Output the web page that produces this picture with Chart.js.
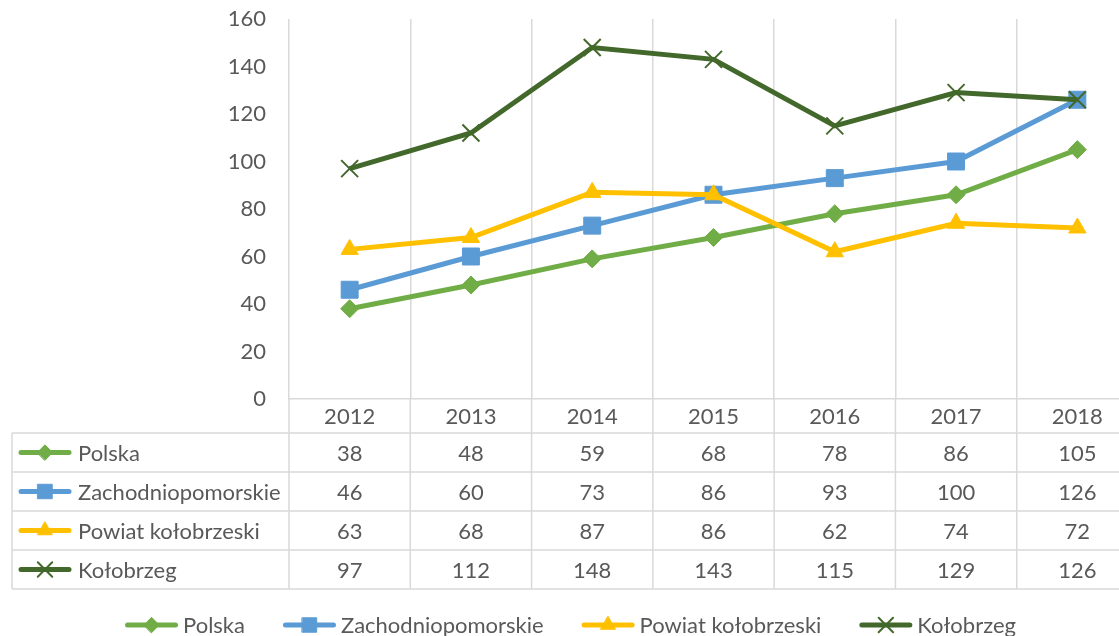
<!DOCTYPE html>
<html>
<head>
<meta charset="utf-8">
<script src="https://cdn.jsdelivr.net/npm/chart.js@4.4.0/dist/chart.umd.min.js"></script>
<style>
  body { margin: 0; background: #fff; overflow: hidden; }
  #wrap { width: 1152px; height: 636px; }
</style>
</head>
<body>
<div id="wrap"><canvas id="lineChart" width="1152" height="636"></canvas></div>
<script>
const years = ['2012', '2013', '2014', '2015', '2016', '2017', '2018'];
const seriesNames = ['Polska', 'Zachodniopomorskie', 'Powiat kołobrzeski', 'Kołobrzeg'];
const polska = [38, 48, 59, 68, 78, 86, 105];
const zachodniopomorskie = [46, 60, 73, 86, 93, 100, 126];
const powiat = [63, 68, 87, 86, 62, 74, 72];
const kolobrzeg = [97, 112, 148, 143, 115, 129, 126];
const yTicks = [0, 20, 40, 60, 80, 100, 120, 140, 160];

const TEXT = '#595959';
const GRID = '#D9D9D9';
const FONT = 'Lato';
const FSIZE = 22;

Chart.defaults.font.family = FONT;
Chart.defaults.font.size = FSIZE;
Chart.defaults.color = TEXT;

function series(label, data, color, style, radius, order, bw) {
    return {
        label: label,
        data: data,
        borderColor: color,
        backgroundColor: color,
        pointBackgroundColor: color,
        pointBorderColor: color,
        pointStyle: style,
        pointRadius: radius,
        pointHoverRadius: radius,
        pointBorderWidth: bw,
        borderWidth: 5,
        tension: 0,
        fill: false,
        order: order
    };
}

// line + marker sample, used by the table and the legend
function drawKey(ctx, ds, cx, cy) {
    ctx.save();
    ctx.strokeStyle = ds.borderColor;
    ctx.lineWidth = 5;
    ctx.lineCap = 'round';
    ctx.beginPath();
    ctx.moveTo(cx - 24, cy);
    ctx.lineTo(cx + 24, cy);
    ctx.stroke();
    ctx.fillStyle = ds.pointBackgroundColor;
    ctx.strokeStyle = ds.pointBorderColor;
    ctx.lineWidth = ds.pointBorderWidth;
    Chart.helpers.drawPoint(ctx, {
        pointStyle: ds.pointStyle,
        radius: ds.pointRadius * 0.85,
        rotation: 0,
        borderWidth: ds.pointBorderWidth
    }, cx, cy);
    ctx.restore();
}

const tableAndLegend = {
    id: 'tableAndLegend',
    afterDraw(chart) {
        const ctx = chart.ctx;
        const x = chart.scales.x;
        const area = chart.chartArea;
        const step = x.getPixelForValue(1) - x.getPixelForValue(0);
        const rowTop = 433, rowH = 39, tableLeft = 12;
        const nRows = chart.data.datasets.length;
        const tableBottom = rowTop + nRows * rowH;

        ctx.save();
        ctx.strokeStyle = GRID;
        ctx.lineWidth = 1.5;
        // column lines
        for (let i = 0; i <= years.length; i++) {
            const bx = x.getPixelForValue(0) - step / 2 + i * step;
            ctx.beginPath();
            ctx.moveTo(bx, area.bottom);
            ctx.lineTo(bx, tableBottom);
            ctx.stroke();
        }
        // row lines
        for (let r = 0; r <= nRows; r++) {
            const y = rowTop + r * rowH;
            ctx.beginPath();
            ctx.moveTo(tableLeft, y);
            ctx.lineTo(area.right, y);
            ctx.stroke();
        }
        ctx.beginPath();
        ctx.moveTo(tableLeft, rowTop);
        ctx.lineTo(tableLeft, tableBottom);
        ctx.stroke();

        ctx.font = FSIZE + 'px ' + FONT;
        ctx.fillStyle = TEXT;
        ctx.textBaseline = 'middle';
        chart.data.datasets.forEach((ds, r) => {
            const cy = rowTop + r * rowH + rowH / 2;
            drawKey(ctx, ds, 45, cy);
            ctx.fillStyle = TEXT;
            ctx.textAlign = 'left';
            ctx.fillText(ds.label, 78, cy + 1);
            ctx.textAlign = 'center';
            ds.data.forEach((v, i) => {
                ctx.fillText(String(v), x.getPixelForValue(i), cy + 1);
            });
        });

        // legend under the table
        const keyW = 53, keyGap = 5, itemGap = 38, ly = 625;
        const widths = chart.data.datasets.map(ds => keyW + keyGap + ctx.measureText(ds.label).width);
        const total = widths.reduce((a, b) => a + b, 0) + itemGap * (widths.length - 1);
        let lx = (area.right + 3) / 2 - total / 2;
        ctx.textAlign = 'left';
        chart.data.datasets.forEach((ds, i) => {
            drawKey(ctx, ds, lx + keyW / 2, ly);
            ctx.fillStyle = TEXT;
            ctx.fillText(ds.label, lx + keyW + keyGap, ly + 1);
            lx += widths[i] + itemGap;
        });
        ctx.restore();
    }
};

const ctxLine = document.getElementById('lineChart').getContext('2d');
const lineChart = new Chart(ctxLine, {
    type: 'line',
    data: {
        labels: years,
        datasets: [
            series(seriesNames[0], polska, '#70AD47', 'rectRot', 9, 3, 1),
            series(seriesNames[1], zachodniopomorskie, '#5B9BD5', 'rect', 12, 2, 1),
            series(seriesNames[2], powiat, '#FFC000', 'triangle', 10, 1, 1),
            series(seriesNames[3], kolobrzeg, '#43682B', 'crossRot', 12, 0, 2)
        ]
    },
    options: {
        responsive: false,
        animation: false,
        layout: { padding: { top: 19, right: 2, left: 0, bottom: 0 } },
        plugins: {
            legend: { display: false },
            tooltip: { enabled: false }
        },
        scales: {
            x: {
                offset: true,
                grid: { offset: true, color: GRID, lineWidth: 1.5, drawTicks: false },
                border: { display: true, color: GRID, width: 1.5 },
                ticks: { padding: 5, color: TEXT },
                afterFit: function(scale) {
                    scale.height = 237;
                    scale.paddingLeft = 0;
                    scale.paddingRight = 0;
                }
            },
            y: {
                min: 0,
                max: 160,
                afterBuildTicks: function(scale) { scale.ticks = yTicks.map(v => ({ value: v })); },
                grid: { display: false, drawTicks: false },
                border: { display: false },
                ticks: { padding: 23, color: TEXT },
                afterFit: function(scale) {
                    scale.width = 289;
                    scale.paddingTop = 0;
                    scale.paddingBottom = 0;
                }
            }
        }
    },
    plugins: [tableAndLegend]
});
</script>
</body>
</html>
